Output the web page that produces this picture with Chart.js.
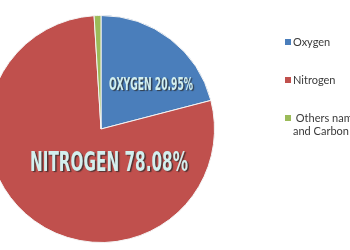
<!DOCTYPE html>
<html>
<head>
<meta charset="utf-8">
<script src="https://cdn.jsdelivr.net/npm/chart.js@4"></script>
<style>
  html, body { margin: 0; padding: 0; background: #fff; }
  #wrap { position: relative; width: 350px; height: 250px; overflow: hidden; }
  #airChart { position: absolute; left: -20px; top: 0; }
</style>
</head>
<body>
<div id="wrap"><canvas id="airChart" width="370" height="250"></canvas></div>
<script>
const gases = ['Oxygen', 'Nitrogen', 'Others namely Argon and Carbon dioxide'];
const legendLines = [['Oxygen'], ['Nitrogen'], [' Others namely Argon', 'and Carbon dioxide']];
const shares = [20.95, 78.08, 0.97];
const sliceLabels = ['OXYGEN 20.95%', 'NITROGEN 78.08%', ''];
const colors = ['#4a7ebb', '#c0504d', '#9bbb59'];

// big condensed labels on the slices
const sliceText = {
    id: 'sliceText',
    afterDatasetsDraw(chart) {
        const ctx = chart.ctx;
        const arcs = chart.getDatasetMeta(0).data;
        const spots = [
            { dx: 50, dy: -43, size: 17, w: 84 },
            { dx: 8, dy: 35, size: 26, w: 158 }
        ];
        spots.forEach(function (s, i) {
            const a = arcs[i];
            ctx.save();
            ctx.font = 'bold ' + s.size + 'px "DejaVu Sans Condensed", "DejaVu Sans"';
            ctx.textAlign = 'center';
            ctx.textBaseline = 'middle';
            const k = s.w / ctx.measureText(sliceLabels[i]).width;
            ctx.translate(a.x + s.dx, a.y + s.dy);
            ctx.scale(k, 1);
            ctx.shadowColor = 'rgba(40,40,40,0.75)';
            ctx.shadowOffsetX = 1.5;
            ctx.shadowOffsetY = 1;
            ctx.shadowBlur = 1;
            ctx.fillStyle = '#d3efee';
            ctx.fillText(sliceLabels[i], 0, 0);
            ctx.restore();
        });
    }
};

// legend on the right, clipped by the page edge like the original
const sideLegend = {
    id: 'sideLegend',
    afterDraw(chart) {
        const ctx = chart.ctx;
        const x0 = 305;
        const rows = [42, 80, 118];
        ctx.save();
        ctx.font = '11px Lato, "Open Sans", sans-serif';
        ctx.textBaseline = 'middle';
        rows.forEach(function (y, i) {
            ctx.fillStyle = colors[i];
            ctx.fillRect(x0, y - 3, 6, 6);
            ctx.fillStyle = '#3a3a3a';
            legendLines[i].forEach(function (t, j) {
                ctx.fillText(t, x0 + 8, y + j * 13);
            });
        });
        ctx.restore();
    }
};

new Chart(document.getElementById('airChart').getContext('2d'), {
    type: 'pie',
    data: {
        labels: gases,
        datasets: [{
            data: shares,
            backgroundColor: colors,
            borderColor: '#f4f4f4',
            borderWidth: 1
        }]
    },
    options: {
        responsive: false,
        animation: false,
        layout: { padding: { left: 7, right: 135, top: 15, bottom: 7 } },
        plugins: {
            legend: { display: false },
            tooltip: { enabled: false }
        }
    },
    plugins: [sliceText, sideLegend]
});
</script>
</body>
</html>
